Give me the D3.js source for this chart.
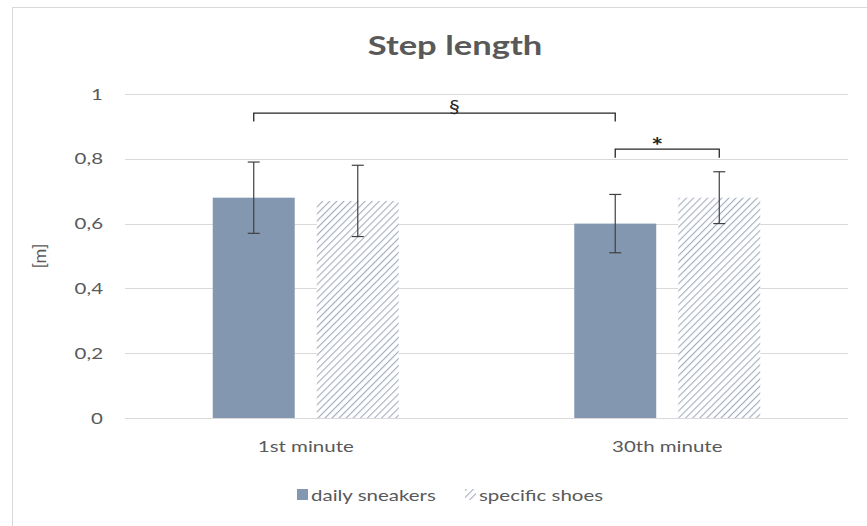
<!DOCTYPE html>
<html>
<head>
<meta charset="utf-8">
<script src="https://cdn.jsdelivr.net/npm/d3@7"></script>
<style>
  body { margin: 0; background: #fff; }
  text { font-family: Lato, "Open Sans", sans-serif; fill: #595959; }
</style>
</head>
<body>
<svg id="chart" width="867" height="526"></svg>
<script>
// data
const categories = ["1st minute", "30th minute"];
const seriesNames = ["daily sneakers", "specific shoes"];
const means = [[0.68, 0.67], [0.60, 0.68]];
const errs = [[0.11, 0.11], [0.09, 0.08]];
const yTicks = [0, 0.2, 0.4, 0.6, 0.8, 1];
const yTickLabels = ["0", "0,2", "0,4", "0,6", "0,8", "1"];
// significance brackets between bars [category, series]
const brackets = [
  { from: [0, 0], to: [1, 0], y: 0.941, tip: 0.915, label: "§", dx: 20 },
  { from: [1, 0], to: [1, 1], y: 0.830, tip: 0.803, label: "*", dx: -10 }
];

const svg = d3.select("#chart");
const barColor = "#8497b0";
const SX = 1.28; // the picture is a bit wide, text is stretched to match

// text helper: stretched horizontally around its anchor point
function label(parent, x, y, str, size, anchor) {
  return parent.append("g")
    .attr("transform", `translate(${x},${y}) scale(${SX},1)`)
    .append("text")
    .attr("text-anchor", anchor || "middle")
    .attr("font-size", size)
    .text(str);
}

const margin = { top: 94, right: 19, bottom: 108, left: 125 };
const width = 867 - margin.left - margin.right;
const height = 526 - margin.top - margin.bottom;

// outer chart border
svg.append("rect")
  .attr("x", 12.5).attr("y", 7.5)
  .attr("width", 860).attr("height", 530)
  .attr("fill", "none").attr("stroke", "#d9d9d9");

const defs = svg.append("defs");
const pat = defs.append("pattern")
  .attr("id", "hatch")
  .attr("patternUnits", "userSpaceOnUse")
  .attr("width", 5).attr("height", 5)
  .attr("patternTransform", "rotate(45)");
pat.append("rect").attr("width", 5).attr("height", 5).attr("fill", "#fff");
pat.append("line")
  .attr("x1", 0).attr("y1", 0).attr("x2", 0).attr("y2", 5)
  .attr("stroke", "#a3adbf").attr("stroke-width", 2.2);

const g = svg.append("g").attr("transform", `translate(${margin.left},${margin.top})`);

const groupW = 186;
const x0 = d3.scaleBand().domain(categories).range([0, width]);
const x1 = d3.scaleBand().domain(seriesNames).range([0, groupW]).paddingInner(0.212);
const groupOffset = (x0.bandwidth() - groupW) / 2;
const y = d3.scaleLinear().domain([0, 1]).range([height, 0]);

// gridlines
g.selectAll(".grid").data(yTicks).enter().append("line")
  .attr("x1", 0).attr("x2", width)
  .attr("y1", d => Math.round(y(d)) + 0.5).attr("y2", d => Math.round(y(d)) + 0.5)
  .attr("stroke", "#d9d9d9").attr("stroke-width", 1);

// y tick labels
yTicks.forEach((d, i) => {
  label(g, -22, y(d) + 5.5, yTickLabels[i], 16, "end");
});

// bars
const barX = (c, s) => x0(categories[c]) + groupOffset + x1(seriesNames[s]);
const cells = [];
means.forEach((row, c) => row.forEach((v, s) => cells.push({ c, s, v, e: errs[c][s] })));

g.selectAll(".bar").data(cells).enter().append("rect")
  .attr("x", d => barX(d.c, d.s))
  .attr("y", d => y(d.v))
  .attr("width", x1.bandwidth())
  .attr("height", d => y(0) - y(d.v))
  .attr("fill", d => d.s === 0 ? barColor : "url(#hatch)");

// error bars
const eb = g.selectAll(".err").data(cells).enter().append("g")
  .attr("stroke", "#404040").attr("stroke-width", 1.2);
const cx = d => barX(d.c, d.s) + x1.bandwidth() / 2;
eb.append("line").attr("x1", cx).attr("x2", cx)
  .attr("y1", d => y(d.v + d.e)).attr("y2", d => y(d.v - d.e));
eb.append("line").attr("x1", d => cx(d) - 6).attr("x2", d => cx(d) + 6)
  .attr("y1", d => y(d.v + d.e)).attr("y2", d => y(d.v + d.e));
eb.append("line").attr("x1", d => cx(d) - 6).attr("x2", d => cx(d) + 6)
  .attr("y1", d => y(d.v - d.e)).attr("y2", d => y(d.v - d.e));

// significance brackets
brackets.forEach(b => {
  const xa = barX(b.from[0], b.from[1]) + x1.bandwidth() / 2;
  const xb = barX(b.to[0], b.to[1]) + x1.bandwidth() / 2;
  g.append("path")
    .attr("d", `M${xa},${y(b.tip)}V${y(b.y)}H${xb}V${y(b.tip)}`)
    .attr("fill", "none").attr("stroke", "#262626").attr("stroke-width", 1.3);
  const star = b.label === "*";
  label(g, (xa + xb) / 2 + b.dx, y(b.y) + (star ? 5 : 0), b.label, star ? 22 : 17)
    .attr("font-weight", star ? "bold" : null)
    .style("fill", "#262626");
});

// x labels
categories.forEach(d => {
  label(g, x0(d) + x0.bandwidth() / 2, height + 34, d, 16);
});

// title
label(svg, 455, 55, "Step length", 27).attr("font-weight", "bold");

// y axis title
svg.append("g")
  .attr("transform", "translate(46,256) rotate(-90)")
  .append("text")
  .attr("text-anchor", "middle")
  .attr("font-size", 18)
  .text("[m]");

// legend
const legend = svg.append("g").attr("transform", "translate(297,495)");
const lx = [0, 168];
seriesNames.forEach((name, i) => {
  legend.append("rect")
    .attr("x", lx[i]).attr("y", -6)
    .attr("width", 11).attr("height", 11)
    .attr("fill", i === 0 ? barColor : "url(#hatch)");
  label(legend, lx[i] + 14, 5.5, name, 16, "start");
});
</script>
</body>
</html>
